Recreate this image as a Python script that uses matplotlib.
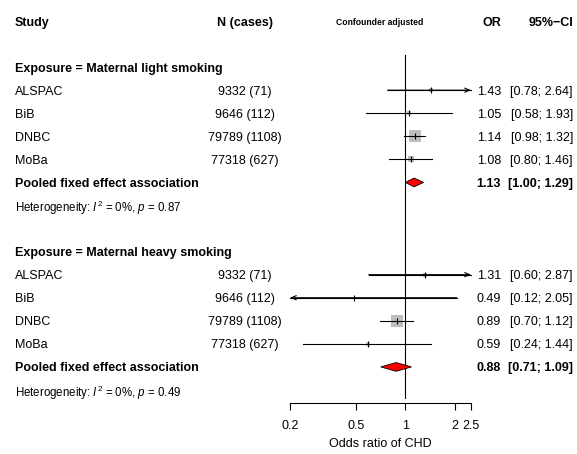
import numpy as np
import matplotlib
matplotlib.use("Agg")
import matplotlib.pyplot as plt
import matplotlib.transforms as mtransforms

plt.rcParams['font.family'] = ['Liberation Sans', 'DejaVu Sans']
plt.rcParams['mathtext.fontset'] = 'custom'
plt.rcParams['mathtext.rm'] = 'Liberation Sans'
plt.rcParams['mathtext.it'] = 'Liberation Sans:italic'

studies = ["ALSPAC", "BiB", "DNBC", "MoBa"]
n_cases = ["9332 (71)", "9646 (112)", "79789 (1108)", "77318 (627)"]

light_or = [1.43, 1.05, 1.14, 1.08]
light_lo = [0.78, 0.58, 0.98, 0.80]
light_hi = [2.64, 1.93, 1.32, 1.46]
light_pool = [1.13, 1.00, 1.29]
light_het = ["0%", "0.87"]

heavy_or = [1.31, 0.49, 0.89, 0.59]
heavy_lo = [0.60, 0.12, 0.70, 0.24]
heavy_hi = [2.87, 2.05, 1.12, 1.44]
heavy_pool = [0.88, 0.71, 1.09]
heavy_het = ["0%", "0.49"]

groups = [("Exposure = Maternal light smoking", light_or, light_lo, light_hi, light_pool, light_het),
          ("Exposure = Maternal heavy smoking", heavy_or, heavy_lo, heavy_hi, heavy_pool, heavy_het)]

xmin, xmax = 0.2, 2.5
W, H = 577, 454
fs = 9

fig = plt.figure(figsize=(W / 100, H / 100), dpi=100)
ax = fig.add_axes([290 / W, (H - 403) / H, (471 - 290) / W, 403 / H])
ax.set_xscale('log')
ax.set_xlim(xmin, xmax)
ax.set_ylim(16.565, -0.9107)
for s in ['top', 'right', 'left']:
    ax.spines[s].set_visible(False)
ax.spines['bottom'].set_linewidth(0.8)
ax.set_yticks([])
ax.set_xticks([0.2, 0.5, 1, 2, 2.5])
ax.set_xticklabels(["0.2", "0.5", "1", "2", "2.5"])
ax.xaxis.set_minor_locator(matplotlib.ticker.NullLocator())
ax.tick_params(axis='x', direction='out', length=5, width=0.8, pad=7.5, labelsize=fs)
ax.set_xlabel("Odds ratio of CHD", fontsize=fs, labelpad=4)

tr = mtransforms.blended_transform_factory(fig.transFigure, ax.transData)

def col(x, y, s, ha='left', bold=False, size=fs):
    ax.text(x / W, y, s, transform=tr, ha=ha, va='center_baseline', fontsize=size,
            fontweight='bold' if bold else 'normal', clip_on=False)

# headers
col(15, 0, "Study", bold=True)
col(245, 0, "N (cases)", ha='center', bold=True)
col(380, 0, "Confounder adjusted", ha='center', bold=True, size=6.2)
col(501, 0, "OR", ha='right', bold=True)
col(573, 0, "95%\u2212CI", ha='right', bold=True)

ax.plot([1, 1], [1.47, 16.35], color='black', lw=0.8, clip_on=False)

for g, (title, est, lo, hi, pool, het) in enumerate(groups):
    r0 = 2 + g * 8
    col(15, r0, title, bold=True)
    se = [(np.log(h) - np.log(l)) / 3.92 for l, h in zip(lo, hi)]
    w = [1 / s ** 2 for s in se]
    wmax = max(w)
    for i in range(len(studies)):
        r = r0 + 1 + i
        col(15, r, studies[i])
        col(245, r, n_cases[i], ha='center')
        col(501, r, "%.2f" % est[i], ha='right')
        col(573, r, "[%.2f; %.2f]" % (lo[i], hi[i]), ha='right')
        side = 12.5 * np.sqrt(w[i] / wmax) * 0.72
        ax.scatter([est[i]], [r], marker='s', s=side ** 2, color='#BEBEBE', lw=0, zorder=2, clip_on=False)
        a, b = max(lo[i], xmin), min(hi[i], xmax)
        ax.plot([a, b], [r, r], color='black', lw=0.8, zorder=3, clip_on=False)
        if hi[i] > xmax:
            ax.annotate('', xy=(xmax, r), xytext=(a, r),
                        arrowprops=dict(arrowstyle='->,head_length=0.35,head_width=0.15', lw=0.8,
                                        color='black', shrinkA=0, shrinkB=0))
        if lo[i] < xmin:
            ax.annotate('', xy=(xmin, r), xytext=(b, r),
                        arrowprops=dict(arrowstyle='->,head_length=0.35,head_width=0.15', lw=0.8,
                                        color='black', shrinkA=0, shrinkB=0))
        ax.plot([est[i]], [r], marker='|', ms=5, mew=0.8, color='black', zorder=4)
    rp = r0 + 5
    col(15, rp, "Pooled fixed effect association", bold=True)
    col(501, rp, "%.2f" % pool[0], ha='right', bold=True)
    col(573, rp, "[%.2f; %.2f]" % (pool[1], pool[2]), ha='right', bold=True)
    dh = 0.19
    ax.fill([pool[1], pool[0], pool[2], pool[0]], [rp, rp - dh, rp, rp + dh],
            facecolor='red', edgecolor='black', lw=0.6, zorder=5)
    col(15, rp + 1, r"Heterogeneity: $\mathit{I}^2$ = %s, $\mathit{p}$ = %s" % (het[0], het[1]), size=8.3)

fig.savefig("out.png", dpi=100)
